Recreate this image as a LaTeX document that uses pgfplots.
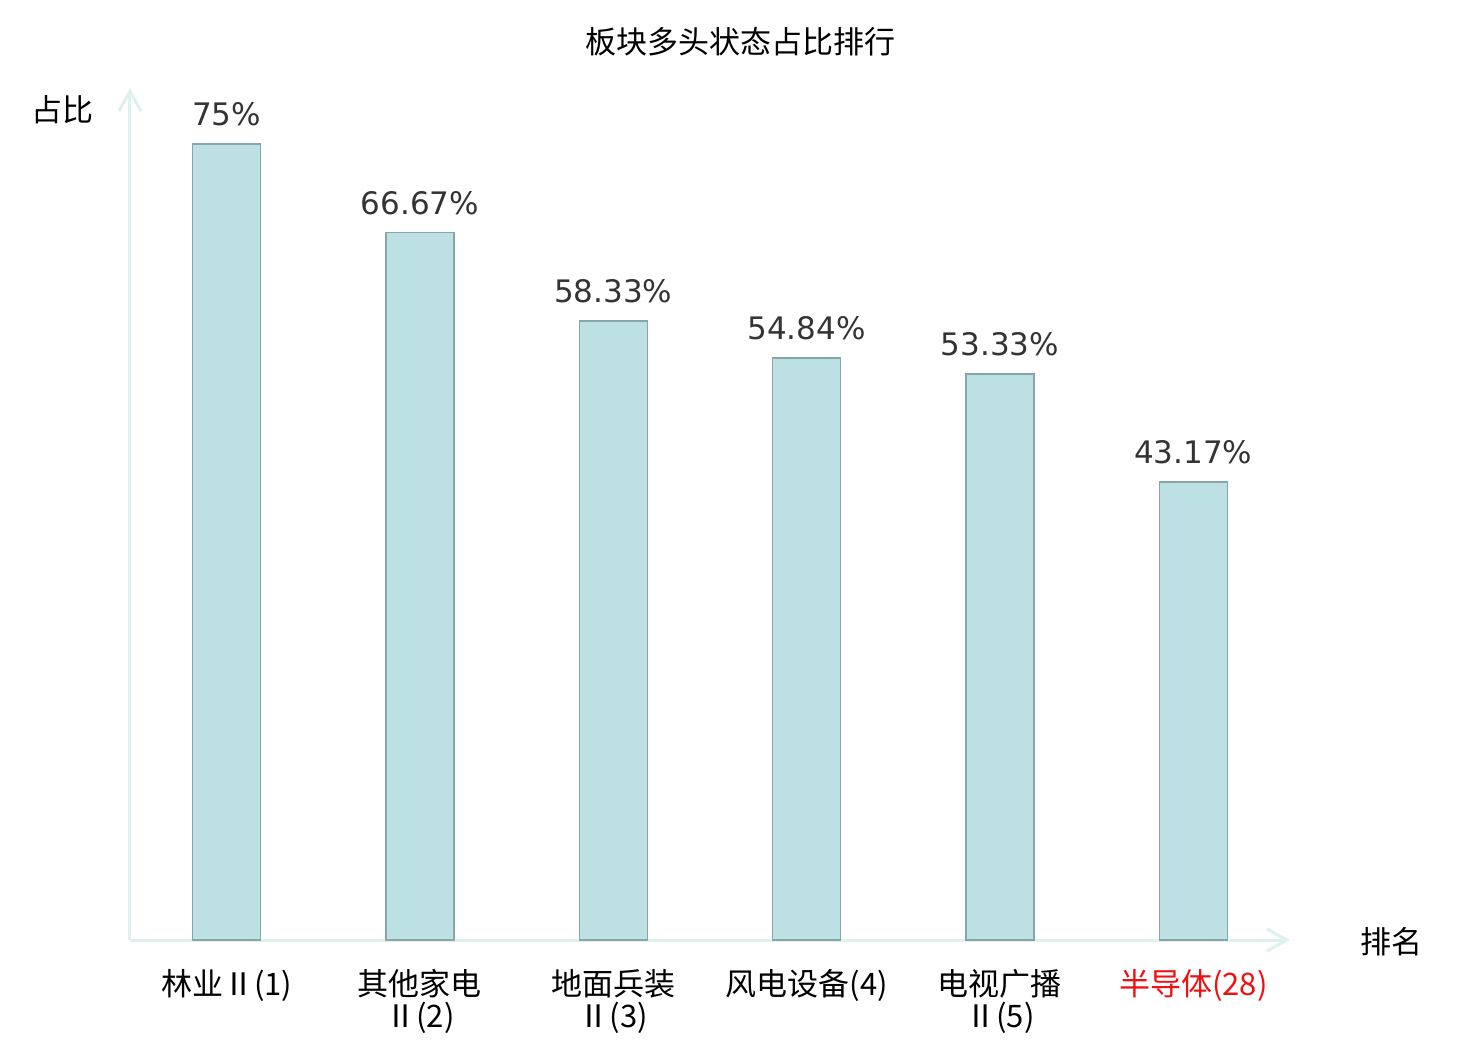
\documentclass[border=0pt]{standalone}
\usepackage{fontspec}
\usepackage{pgfplots}
\pgfplotsset{compat=1.18}
\usetikzlibrary{arrows.meta}
\setmainfont{Noto Sans CJK SC}
\newfontfamily\cjk{Noto Sans CJK SC}
\newfontfamily\valfont{DejaVu Sans}
\definecolor{barfill}{HTML}{BCE0E3}
\definecolor{baredge}{HTML}{88A6A8}
\definecolor{axcol}{HTML}{DDF1EE}
\definecolor{valcol}{HTML}{333333}
\definecolor{redlab}{HTML}{EE1111}
\begin{document}
\begin{tikzpicture}
\path[use as bounding box] (-65pt,-50pt) rectangle (675pt,470pt);
\begin{axis}[
  scale only axis,
  width=580pt, height=426pt,
  at={(0,0)}, anchor=south west,
  xmin=-0.5, xmax=5.5,
  ymin=0, ymax=80.3,
  axis x line=bottom, axis y line=left,
  axis line style={draw=axcol, line width=1.5pt, -{Straight Barb[length=10pt,width=11pt,line width=1.5pt]}},
  ytick=\empty,
  xtick={0,1,2,3,4,5},
  xticklabels={林业Ⅱ(1),其他家电\\Ⅱ(2),地面兵装\\Ⅱ(3),风电设备(4),电视广播\\Ⅱ(5),\textcolor{redlab}{半导体(28)}},
  major tick length=0pt,
  xticklabel style={font=\fontsize{15.5pt}{16pt}\selectfont, align=center, anchor=north, inner sep=0pt, yshift=-14.5pt, text=black},
  ybar,
  bar width=34pt,
  /pgf/number format/assume math mode=true,
  nodes near coords={\pgfmathprintnumber[fixed,precision=2]{\pgfplotspointmeta}\%},
  nodes near coords style={font=\valfont\fontsize{15.5pt}{16pt}\selectfont, text=valcol, anchor=south, inner sep=0pt, yshift=8.5pt},
  clip=false,
]
\addplot[fill=barfill, draw=baredge, line width=0.8pt] coordinates {
  (0,75) (1,66.67) (2,58.33) (3,54.84) (4,53.33) (5,43.17)
};
\end{axis}
\node[font=\fontsize{15.5pt}{16pt}\selectfont] at (305pt,449pt) {板块多头状态占比排行};
\node[font=\fontsize{15.5pt}{16pt}\selectfont] at (-33.5pt,415pt) {占比};
\node[font=\fontsize{15.5pt}{16pt}\selectfont] at (630.5pt,-1pt) {排名};
\end{tikzpicture}
\end{document}
